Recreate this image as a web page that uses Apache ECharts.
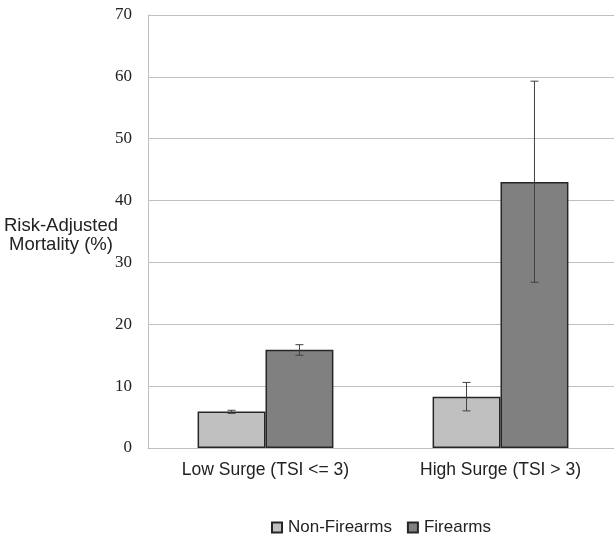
<!DOCTYPE html>
<html><head><meta charset="utf-8">
<script src="https://cdn.jsdelivr.net/npm/echarts@6/dist/echarts.min.js"></script>
<style>html,body{margin:0;padding:0;background:#fff}#c{width:614px;height:536px}</style>
</head><body><div id="c"></div>
<script>
const categories = ['Low Surge (TSI <= 3)', 'High Surge (TSI > 3)'];
const seriesNames = ['Non-Firearms', 'Firearms'];
const nonFirearms = [5.9, 8.3];
const firearms = [15.9, 43.0];
const nonFirearmsLow = [5.6, 6.0];
const nonFirearmsHigh = [6.1, 10.6];
const firearmsLow = [15.0, 26.8];
const firearmsHigh = [16.7, 59.3];
const yTicks = [0, 10, 20, 30, 40, 50, 60, 70];

const chart = echarts.init(document.getElementById('c'), null, {renderer: 'canvas'});
const CAT_GAP = 0.422;

function errSeries(name, lows, highs, idx) {
  return {
    type: 'custom',
    name: name + ' err',
    silent: true,
    z: 10,
    data: categories.map((c, i) => [i, lows[i], highs[i]]),
    renderItem: function (params, api) {
      const i = api.value(0);
      const band = api.size([1, 0])[0];
      const bw = band * (1 - CAT_GAP) / 2;
      const off = idx === 0 ? -bw / 2 : bw / 2;
      const lo = api.coord([i, api.value(1)]);
      const hi = api.coord([i, api.value(2)]);
      const x = lo[0] + off;
      const cap = 4;
      const st = {stroke: '#404040', lineWidth: 1};
      return {type: 'group', children: [
        {type: 'line', shape: {x1: x, y1: lo[1], x2: x, y2: hi[1]}, style: st},
        {type: 'line', shape: {x1: x - cap, y1: lo[1], x2: x + cap, y2: lo[1]}, style: st},
        {type: 'line', shape: {x1: x - cap, y1: hi[1], x2: x + cap, y2: hi[1]}, style: st}
      ]};
    }
  };
}

chart.setOption({
  animation: false,
  grid: {left: 148, width: 470, top: 15, bottom: 88, outerBoundsMode: 'none', containLabel: false},
  legend: {
    data: seriesNames,
    top: 514,
    left: 266,
    itemWidth: 10, itemHeight: 10, itemGap: 15,
    icon: 'rect',
    textStyle: {fontFamily: 'Liberation Sans', fontSize: 17, color: '#222', padding: [0, 0, 0, 1]}
  },
  xAxis: {
    type: 'category',
    data: categories,
    axisLine: {lineStyle: {color: '#bfbfbf'}},
    axisTick: {show: false},
    axisLabel: {fontFamily: 'Liberation Sans', fontSize: 17.5, color: '#222', margin: 13}
  },
  yAxis: {
    type: 'value',
    min: 0, max: 70, interval: 10,
    name: '{s| }\n{a|Risk-Adjusted}\n{a|Mortality (%)}',
    nameLocation: 'middle',
    nameRotate: 0,
    nameGap: 87,
    nameMoveOverlap: false,
    nameTextStyle: {fontFamily: 'Liberation Sans', fontSize: 18.5, color: '#222', align: 'center', lineHeight: 19,
      rich: {
        s: {fontSize: 6, lineHeight: 7},
        a: {fontFamily: 'Liberation Sans', fontSize: 18.5, color: '#222', lineHeight: 19}
      }},
    axisLine: {show: true, lineStyle: {color: '#bfbfbf'}},
    axisTick: {show: false},
    splitLine: {lineStyle: {color: '#bfbfbf'}},
    axisLabel: {fontFamily: 'Liberation Serif', fontSize: 17, color: '#222', margin: 16,
      formatter: v => yTicks.includes(v) ? String(v) : ''}
  },
  series: [
    {type: 'bar', name: seriesNames[0], data: nonFirearms, barGap: '0%', barCategoryGap: (CAT_GAP*100)+'%',
     itemStyle: {color: '#c0c0c0', borderColor: '#262626', borderWidth: 1.5}},
    {type: 'bar', name: seriesNames[1], data: firearms, barGap: '0%', barCategoryGap: (CAT_GAP*100)+'%',
     itemStyle: {color: '#808080', borderColor: '#262626', borderWidth: 1.5}},
    errSeries(seriesNames[0], nonFirearmsLow, nonFirearmsHigh, 0),
    errSeries(seriesNames[1], firearmsLow, firearmsHigh, 1)
  ]
});
</script></body></html>
